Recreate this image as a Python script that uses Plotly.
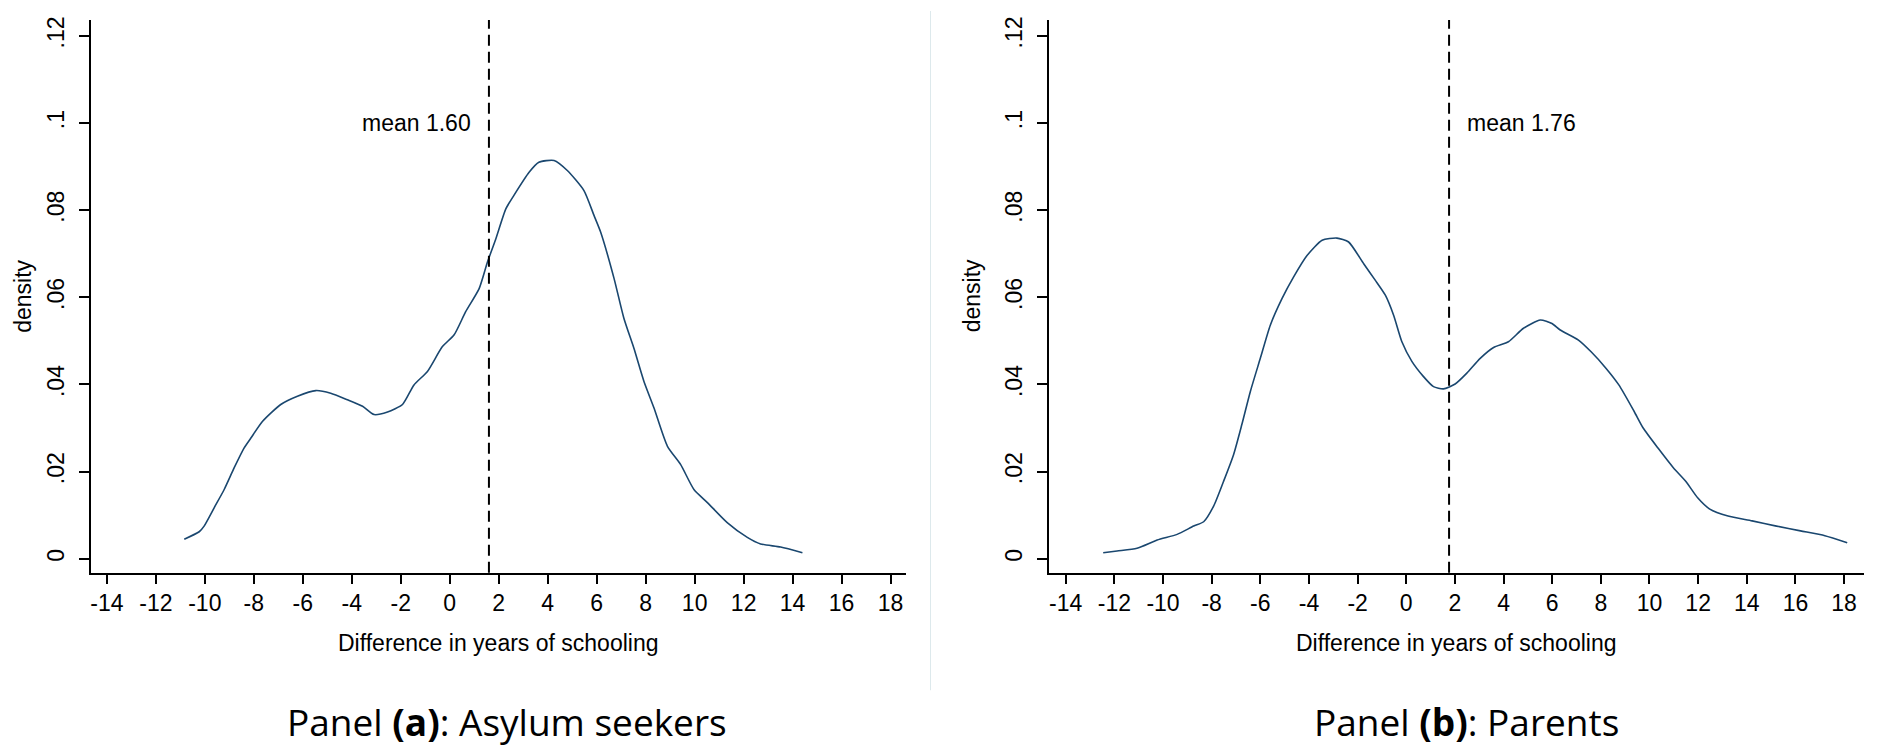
import plotly.graph_objects as go


# Kernel density, difference in years of schooling
ASYLUM_X = [-10.84, -10.23, -10.03, -9.62, -9.21, -8.80, -8.40, -8.12, -7.65, -6.90,
            -6.22, -5.47, -4.86, -4.18, -3.56, -3.09, -2.54, -1.93, -1.46, -0.91,
            -0.30, 0.18, 0.65, 1.20, 1.54, 1.88, 2.29, 2.62, 3.24, 3.64,
            4.26, 4.80, 5.48, 5.89, 6.16, 6.71, 7.11, 7.52, 7.93, 8.34,
            8.89, 9.43, 9.97, 10.52, 11.33, 12.15, 12.69, 13.51, 14.40]
ASYLUM_Y = [0.0045, 0.0062, 0.0075, 0.0117, 0.0159, 0.0209, 0.0254, 0.0277, 0.0315, 0.0354,
            0.0373, 0.0386, 0.0380, 0.0365, 0.0350, 0.0331, 0.0337, 0.0354, 0.0399, 0.0430,
            0.0487, 0.0514, 0.0567, 0.0620, 0.0681, 0.0734, 0.0803, 0.0834, 0.0887, 0.0910,
            0.0914, 0.0891, 0.0845, 0.0788, 0.0750, 0.0643, 0.0552, 0.0483, 0.0407, 0.0346,
            0.0258, 0.0216, 0.0159, 0.0129, 0.0083, 0.0049, 0.0034, 0.0027, 0.0014]

PARENTS_X = [-12.46, -11.89, -11.07, -10.24, -9.42, -8.74, -8.33, -7.92, -7.51, -7.10,
             -6.76, -6.41, -6.00, -5.59, -5.11, -4.63, -4.08, -3.46, -2.85, -2.37,
             -1.75, -1.27, -0.86, -0.52, -0.18, 0.23, 0.71, 1.12, 1.53, 2.01,
             2.49, 3.04, 3.59, 4.20, 4.82, 5.51, 5.99, 6.33, 7.08, 7.60,
             8.20, 8.74, 9.37, 9.74, 10.35, 10.98, 11.49, 11.98, 12.48, 13.23,
             14.22, 15.22, 16.21, 17.21, 18.13]
PARENTS_Y = [0.0014, 0.0018, 0.0024, 0.0043, 0.0056, 0.0075, 0.0085, 0.0121, 0.0178, 0.0239,
             0.0308, 0.0384, 0.0460, 0.0536, 0.0597, 0.0647, 0.0696, 0.0731, 0.0736, 0.0727,
             0.0677, 0.0639, 0.0605, 0.0559, 0.0498, 0.0453, 0.0418, 0.0395, 0.0390, 0.0401,
             0.0426, 0.0460, 0.0485, 0.0498, 0.0529, 0.0548, 0.0540, 0.0525, 0.0502, 0.0475,
             0.0438, 0.0399, 0.0338, 0.0300, 0.0254, 0.0209, 0.0178, 0.0140, 0.0114, 0.0098,
             0.0087, 0.0075, 0.0064, 0.0053, 0.0037]

ASYLUM_MEAN = 1.60
PARENTS_MEAN = 1.76

X_TICKS = [-14, -12, -10, -8, -6, -4, -2, 0, 2, 4, 6, 8, 10, 12, 14, 16, 18]
Y_TICKS = [0, 0.02, 0.04, 0.06, 0.08, 0.10, 0.12]
Y_TICK_LABELS = ["0", ".02", ".04", ".06", ".08", ".1", ".12"]

X_TITLE = "Difference in years of schooling"
Y_TITLE = "density"
PANEL_TITLES = ["Panel <b>(a)</b>: Asylum seekers", "Panel <b>(b)</b>: Parents"]

# the page body keeps its default 8px margin, so the figure is drawn 8px smaller
BODY = 8
W, H = 1890 - BODY, 748 - BODY
LINE_COLOR = "#1a476f"
TEXT_FONT = "Liberation Sans, Arial, sans-serif"
TITLE_FONT = "Open Sans, Lato, sans-serif"


def px_x(v):
    return (v - BODY) / W


def px_y(v):
    return 1 - (v - BODY) / H


def _eje_x(dominio, rango, anchor):
    return dict(
        domain=dominio,
        range=rango,
        anchor=anchor,
        tickmode="array",
        tickvals=X_TICKS,
        ticktext=[str(t) for t in X_TICKS],
        showline=True,
        linecolor="black",
        linewidth=2,
        ticks="outside",
        ticklen=9,
        tickwidth=2,
        tickcolor="black",
        ticklabelstandoff=0,
        showgrid=False,
        zeroline=False,
        tickfont=dict(family=TEXT_FONT, size=23, color="black"),
    )


def _eje_y(anchor):
    return dict(
        domain=[px_y(572), px_y(17)],
        range=[-0.0032, 0.12366],
        anchor=anchor,
        tickmode="array",
        tickvals=Y_TICKS,
        ticktext=Y_TICK_LABELS,
        tickangle=-90,
        showline=True,
        linecolor="black",
        linewidth=2,
        ticks="outside",
        ticklen=10,
        tickwidth=2,
        tickcolor="black",
        ticklabelstandoff=6,
        showgrid=False,
        zeroline=False,
        tickfont=dict(family=TEXT_FONT, size=23, color="black"),
    )


def _texto(texto, x, y, size=23, family=TEXT_FONT, angle=0):
    return dict(
        text=texto, x=x, y=y, xref="paper", yref="paper",
        showarrow=False, textangle=angle,
        font=dict(family=family, size=size, color="black"),
        xanchor="center", yanchor="middle",
    )


fig = go.Figure()
fig.add_trace(go.Scatter(
    x=ASYLUM_X, y=ASYLUM_Y, mode="lines", xaxis="x", yaxis="y",
    line=dict(color=LINE_COLOR, width=1.6, shape="spline", smoothing=0.6),
    showlegend=False, hoverinfo="skip",
))
fig.add_trace(go.Scatter(
    x=PARENTS_X, y=PARENTS_Y, mode="lines", xaxis="x2", yaxis="y2",
    line=dict(color=LINE_COLOR, width=1.6, shape="spline", smoothing=0.6),
    showlegend=False, hoverinfo="skip",
))

# lineas de la media
for xref, yref, media in [("x", "y domain", ASYLUM_MEAN), ("x2", "y2 domain", PARENTS_MEAN)]:
    fig.add_shape(
        type="line", xref=xref, yref=yref, x0=media, x1=media, y0=0, y1=1,
        line=dict(color="black", width=2, dash="11px,6px"),
    )

# separador entre paneles
fig.add_shape(
    type="line", xref="paper", yref="paper",
    x0=px_x(930), x1=px_x(930), y0=px_y(690), y1=1,
    line=dict(color="#dde9ec", width=1),
)

anotaciones = [
    dict(text=f"mean {ASYLUM_MEAN:.2f}", x=ASYLUM_MEAN, y=0.1, xref="x", yref="y",
         showarrow=False, xanchor="right", yanchor="middle", xshift=-16,
         font=dict(family=TEXT_FONT, size=23, color="black")),
    dict(text=f"mean {PARENTS_MEAN:.2f}", x=PARENTS_MEAN, y=0.1, xref="x2", yref="y2",
         showarrow=False, xanchor="left", yanchor="middle", xshift=16,
         font=dict(family=TEXT_FONT, size=23, color="black")),
    _texto(Y_TITLE, px_x(22), px_y(294), angle=-90),
    _texto(Y_TITLE, px_x(971), px_y(294), angle=-90),
    _texto(X_TITLE, px_x(497), px_y(643)),
    _texto(X_TITLE, px_x(1456), px_y(643)),
    _texto(PANEL_TITLES[0], px_x(506), px_y(721), size=37, family=TITLE_FONT),
    _texto(PANEL_TITLES[1], px_x(1466), px_y(721), size=37, family=TITLE_FONT),
]

fig.update_layout(
    width=W,
    height=H,
    margin=dict(l=0, r=0, t=0, b=0),
    paper_bgcolor="white",
    plot_bgcolor="white",
    xaxis=_eje_x([px_x(90), px_x(905)], [-14.65, 18.61], "y"),
    yaxis=_eje_y("x"),
    xaxis2=_eje_x([px_x(1049), px_x(1864)], [-14.67, 18.82], "y2"),
    yaxis2=_eje_y("x2"),
    annotations=anotaciones,
)

fig.write_html("out.html")
